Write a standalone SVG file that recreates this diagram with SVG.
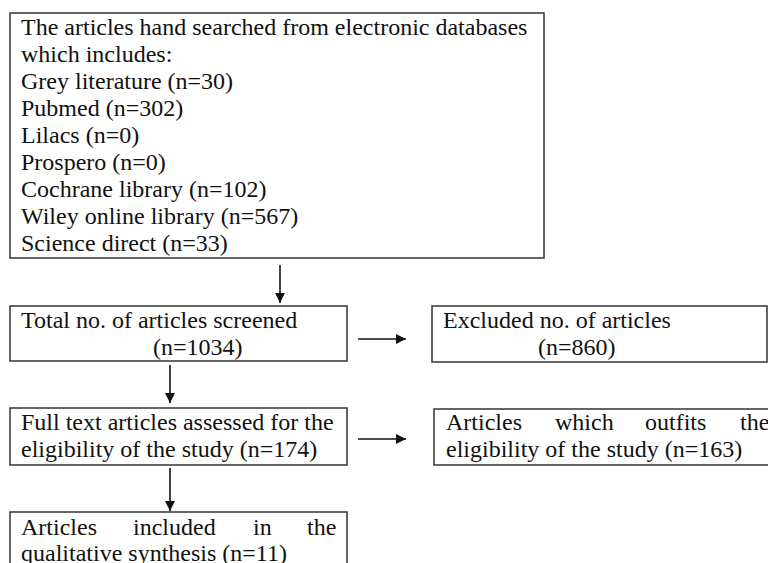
<svg xmlns="http://www.w3.org/2000/svg" width="768" height="563" viewBox="0 0 768 563">
<defs>
<style>
.box{fill:#fff;stroke:#333;stroke-width:1.5}
.t{font-family:'Liberation Serif','DejaVu Serif','Times New Roman',Times,serif;font-size:24px;fill:#111}
.c{stroke:#111;stroke-width:1.6;fill:none}
</style>
<marker id="ah" viewBox="0 0 10 10" refX="10" refY="5" markerWidth="10" markerHeight="10" markerUnits="userSpaceOnUse" orient="auto">
<path d="M0,0 L10,5 L0,10 Z" fill="#111"/>
</marker>
</defs>
<rect width="768" height="563" fill="#fff"/>
<g id="connectors">
<line class="c" x1="280" y1="265" x2="280" y2="303" marker-end="url(#ah)"/>
<line class="c" x1="170" y1="365" x2="170" y2="403" marker-end="url(#ah)"/>
<line class="c" x1="170" y1="468" x2="170" y2="511" marker-end="url(#ah)"/>
<line class="c" x1="358" y1="339" x2="406" y2="339" marker-end="url(#ah)"/>
<line class="c" x1="358" y1="439" x2="406" y2="439" marker-end="url(#ah)"/>
</g>
<g id="search">
<rect class="box" x="10" y="13" width="534" height="245"/>
<text class="t" x="21" y="35">The articles hand searched from electronic databases</text>
<text class="t" x="21" y="62">which includes:</text>
<text class="t" x="21" y="89">Grey literature (n=30)</text>
<text class="t" x="21" y="116">Pubmed (n=302)</text>
<text class="t" x="21" y="143">Lilacs (n=0)</text>
<text class="t" x="21" y="170">Prospero (n=0)</text>
<text class="t" x="21" y="197">Cochrane library  (n=102)</text>
<text class="t" x="21" y="224">Wiley online library (n=567)</text>
<text class="t" x="21" y="251">Science direct (n=33)</text>
</g>
<g id="screened">
<rect class="box" x="10" y="306" width="337" height="55"/>
<text class="t" x="21" y="328">Total no. of articles screened</text>
<text class="t" x="153" y="355">(n=1034)</text>
</g>
<g id="excluded">
<rect class="box" x="432" y="306" width="335" height="56"/>
<text class="t" x="443" y="328">Excluded no. of articles</text>
<text class="t" x="538" y="355">(n=860)</text>
</g>
<g id="fulltext">
<rect class="box" x="10" y="408" width="337" height="57"/>
<text class="t" x="21" y="430">Full text articles assessed for the</text>
<text class="t" x="21" y="457">eligibility of the study (n=174)</text>
</g>
<g id="outfits">
<rect class="box" x="434" y="409" width="340" height="56"/>
<text class="t" y="430"><tspan x="446">Articles</tspan><tspan x="555">which</tspan><tspan x="645">outfits</tspan><tspan x="740">the</tspan></text>
<text class="t" x="446" y="457">eligibility of the study (n=163)</text>
</g>
<g id="included">
<rect class="box" x="10" y="512" width="337" height="60"/>
<text class="t" y="535"><tspan x="21">Articles</tspan><tspan x="133">included</tspan><tspan x="253">in</tspan><tspan x="307">the</tspan></text>
<text class="t" x="21" y="561">qualitative synthesis (n=11)</text>
</g>
</svg>
